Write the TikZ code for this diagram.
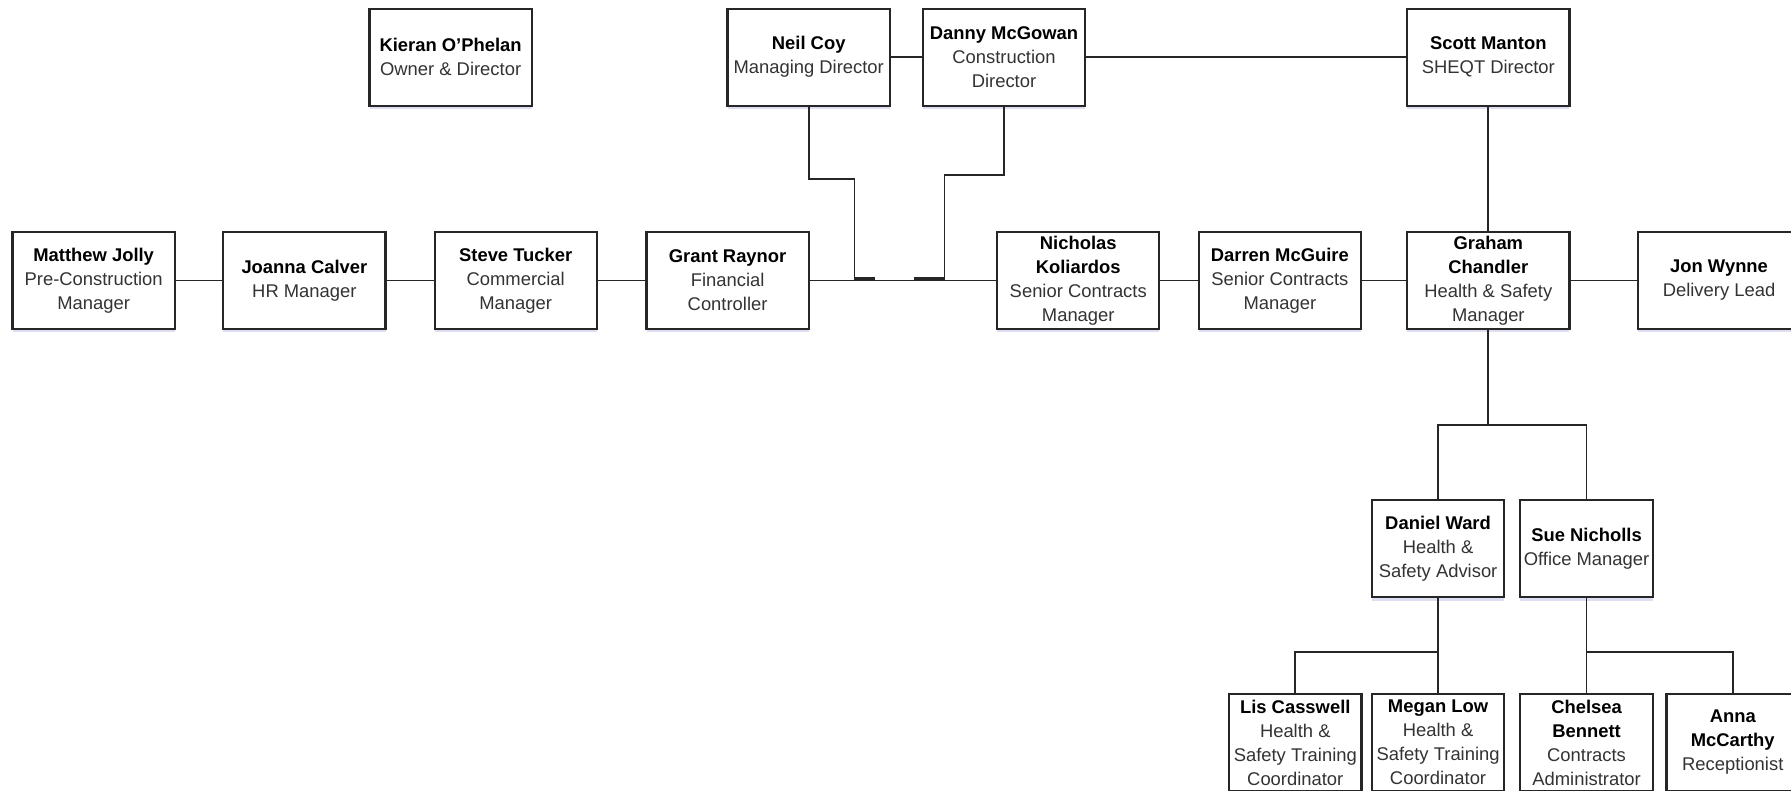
\documentclass[tikz,border=0pt]{standalone}
\usepackage{fontspec}
\setmainfont{Liberation Sans}
\usetikzlibrary{shadows}
\newcommand\pname[1]{\textcolor{black}{\bfseries #1}}
\begin{document}
\begin{tikzpicture}[x=0.5711pt,y=-0.5711pt,
  box/.style={draw=black!85, line width=1.1pt, fill=white, inner sep=0pt,
    minimum width=81.1pt, minimum height=48.5pt, align=center,
    text=black!80, font=\fontsize{9.2}{12}\selectfont,
    drop shadow={shadow xshift=0pt, shadow yshift=-1.6pt, opacity=0.18, fill=blue!45!gray}},
  sbox/.style={box, minimum width=66.2pt},
  conn/.style={draw=black!85, line width=0.85pt},
  jump/.style={draw=black!85, line width=1.3pt}]
\useasboundingbox (0,0) rectangle (1568,692);
% row 1
\node[box] (kieran) at (394.5,50) {\pname{Kieran O'Phelan}\\Owner \& Director};
\node[box] (neil) at (708,50) {\pname{Neil Coy}\\Managing Director};
\node[box] (danny) at (879,50) {\pname{Danny McGowan}\\Construction\\Director};
\node[box] (scott) at (1303,50) {\pname{Scott Manton}\\SHEQT Director};
% row 2
\node[box] (matthew) at (82,245.5) {\pname{Matthew Jolly}\\Pre-Construction\\Manager};
\node[box] (joanna) at (266.5,245.5) {\pname{Joanna Calver}\\HR Manager};
\node[box] (steve) at (451.5,245.5) {\pname{Steve Tucker}\\Commercial\\Manager};
\node[box] (grant) at (637,245.5) {\pname{Grant Raynor}\\Financial\\Controller};
\node[box] (nicholas) at (944,245.5) {\pname{Nicholas}\\\pname{Koliardos}\\Senior Contracts\\Manager};
\node[box] (darren) at (1120.5,245.5) {\pname{Darren McGuire}\\Senior Contracts\\Manager};
\node[box] (graham) at (1303,245.5) {\pname{Graham}\\\pname{Chandler}\\Health \& Safety\\Manager};
\node[box] (jon) at (1505,245.5) {\pname{Jon Wynne}\\Delivery Lead};
% row 3
\node[sbox] (daniel) at (1259,480.5) {\pname{Daniel Ward}\\Health \&\\Safety Advisor};
\node[sbox] (sue) at (1389,480.5) {\pname{Sue Nicholls}\\Office Manager};
% row 4
\node[sbox] (lis) at (1134,650) {\pname{Lis Casswell}\\Health \&\\Safety Training\\Coordinator};
\node[sbox] (megan) at (1259,650) {\pname{Megan Low}\\Health \&\\Safety Training\\Coordinator};
\node[sbox] (chelsea) at (1389,650) {\pname{Chelsea}\\\pname{Bennett}\\Contracts\\Administrator};
\node[sbox] (anna) at (1517,650) {\pname{Anna}\\\pname{McCarthy}\\Receptionist};
% junction coordinates
\coordinate (nb) at (748,157);
\coordinate (nj) at (748,244);
\coordinate (db) at (827,153);
\coordinate (dj) at (827,244);
\coordinate (g1) at (1303,372);
\coordinate (d1) at (1259,571);
\coordinate (s1) at (1389,571);
% connectors row 1
\draw[conn] (neil.east) -- (danny.west);
\draw[conn] (danny.east) -- (scott.west);
\draw[conn] (neil.south) |- (nb) -- (nj);
\draw[conn] (danny.south) |- (db) -- (dj);
% connectors row 2
\draw[conn] (matthew.east) -- (joanna.west);
\draw[conn] (joanna.east) -- (steve.west);
\draw[conn] (steve.east) -- (grant.west);
\draw[conn] (grant.east) -- (nicholas.west);
\draw[conn] (nicholas.east) -- (darren.west);
\draw[conn] (darren.east) -- (graham.west);
\draw[conn] (graham.east) -- (jon.west);
\draw[jump] (nj) -- ++(18,0);
\draw[jump] (dj) -- ++(-27,0);
% vertical tree
\draw[conn] (scott.south) -- (graham.north);
\draw[conn] (graham.south) -- (g1);
\draw[conn] (daniel.north) |- (g1);
\draw[conn] (sue.north) |- (g1);
\draw[conn] (daniel.south) -- (megan.north);
\draw[conn] (lis.north) |- (d1);
\draw[conn] (sue.south) -- (chelsea.north);
\draw[conn] (anna.north) |- (s1);
\end{tikzpicture}
\end{document}
